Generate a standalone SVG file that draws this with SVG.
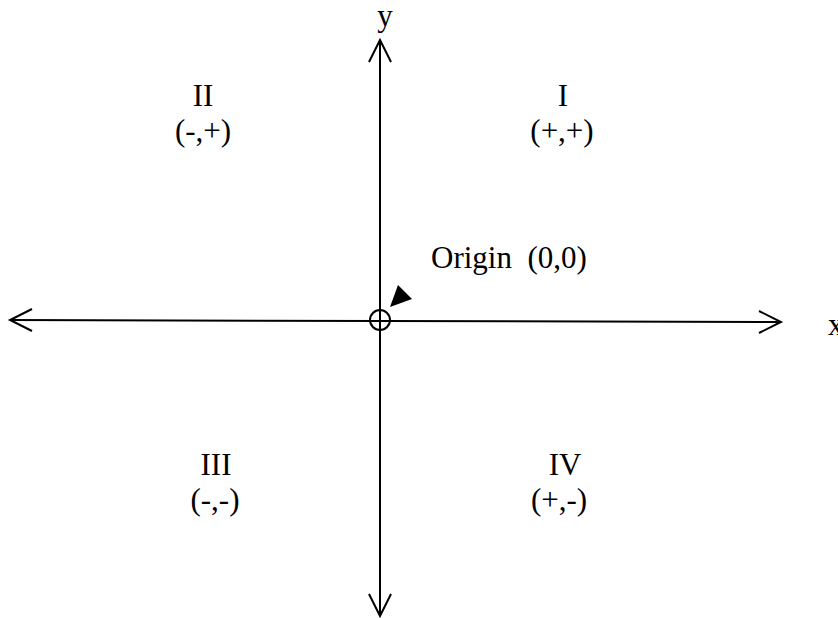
<svg xmlns="http://www.w3.org/2000/svg" width="838" height="618" viewBox="0 0 838 618">
<style>
.ax{stroke:#000;stroke-width:2;fill:none}
.t{font-family:"Liberation Serif","Times New Roman",serif;font-size:31px;fill:#000;text-anchor:middle}
</style>
<rect width="838" height="618" fill="#fff"/>
<g id="connectors">
<line class="ax" x1="10" y1="320" x2="781" y2="322"/>
<polyline class="ax" points="32,309 10,320 32,331"/>
<polyline class="ax" points="759,311 781,322 759,333"/>
<line class="ax" x1="380" y1="40" x2="380" y2="616"/>
<polyline class="ax" points="369,62 380,40 391,62"/>
<polyline class="ax" points="369,594 380,616 391,594"/>
<polygon points="390,307 398,285 412,299" fill="#000"/>
</g>
<g id="origin">
<circle class="ax" cx="380" cy="320" r="10"/>
<text class="t" x="431" y="268" style="text-anchor:start" xml:space="preserve">Origin  (0,0)</text>
</g>
<g id="label-y"><text class="t" x="385" y="26">y</text></g>
<g id="label-x"><text class="t" x="828" y="335" style="text-anchor:start">x</text></g>
<g id="q1"><text class="t" x="563" y="106">I</text><text class="t" x="562" y="141">(+,+)</text></g>
<g id="q2"><text class="t" x="203" y="106">II</text><text class="t" x="203" y="141">(-,+)</text></g>
<g id="q3"><text class="t" x="216" y="475">III</text><text class="t" x="215" y="510">(-,-)</text></g>
<g id="q4"><text class="t" x="565" y="475">IV</text><text class="t" x="559" y="510">(+,-)</text></g>
</svg>
